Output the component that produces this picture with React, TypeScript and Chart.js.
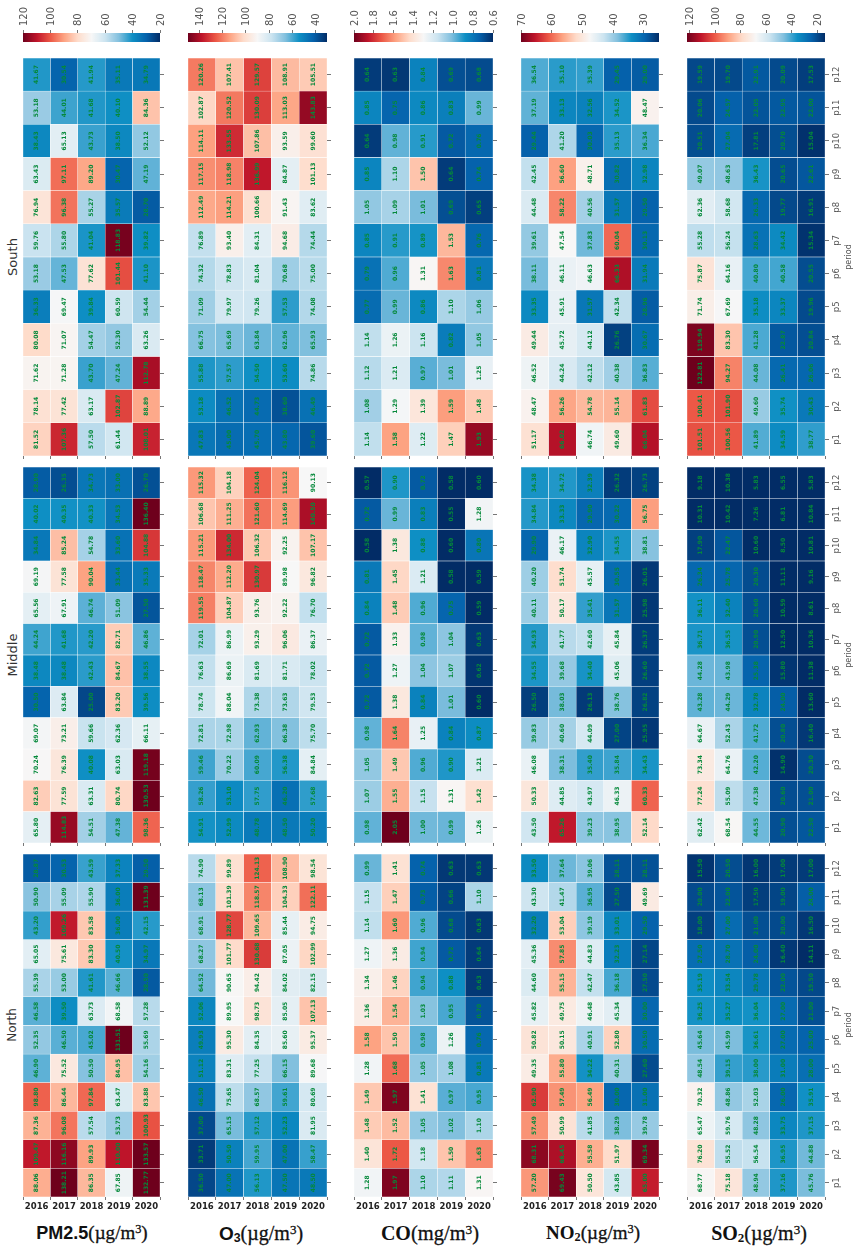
import React, { useEffect, useRef } from "react";
import { Chart, registerables } from "chart.js";

Chart.register(...registerables);

const years = ["2016", "2017", "2018", "2019", "2020"];
const periods = ["p1", "p2", "p3", "p4", "p5", "p6", "p7", "p8", "p9", "p10", "p11", "p12"];
const regions = ["South", "Middle", "North"];

// every table: rows p1..p12, columns 2016..2020
const pm25South = [
  [81.52, 107.36, 57.5, 61.44, 108.01], [78.14, 77.42, 63.17, 102.87, 88.89], [71.62, 71.28, 43.7, 47.24, 112.78],
  [80.08, 71.07, 54.47, 52.3, 63.26], [36.33, 69.47, 39.84, 60.59, 54.44], [53.18, 47.53, 77.62, 101.44, 41.1],
  [59.76, 55.8, 41.04, 118.83, 39.82], [76.94, 96.38, 55.27, 35.57, 28.7], [63.43, 97.11, 89.2, 30.47, 47.19],
  [38.43, 65.13, 43.73, 38.5, 52.12], [53.18, 44.01, 41.68, 40.1, 84.36], [41.67, 30.54, 41.94, 35.11, 34.79],
];
const o3South = [
  [47.83, 45.0, 45.7, 43.8, 39.6], [53.18, 46.52, 44.73, 38.6, 46.49], [55.88, 57.57, 54.5, 53.6, 74.86],
  [66.75, 65.69, 63.84, 62.96, 65.93], [71.09, 79.97, 79.26, 57.53, 74.08], [74.32, 78.83, 81.04, 70.68, 75.0],
  [76.89, 93.4, 84.31, 94.68, 74.44], [112.49, 114.21, 100.66, 91.43, 83.62], [117.15, 118.98, 136.99, 84.87, 101.13],
  [114.11, 133.55, 107.86, 93.59, 99.6], [102.87, 120.52, 130.09, 113.03, 143.83], [120.26, 107.41, 129.57, 108.91, 105.51],
];
const coSouth = [
  [1.14, 1.58, 1.22, 1.47, 1.93], [1.08, 1.29, 1.39, 1.59, 1.48], [1.12, 1.21, 0.97, 1.01, 1.25],
  [1.14, 1.26, 1.16, 0.82, 1.05], [0.77, 0.99, 0.86, 1.1, 1.06], [0.79, 0.96, 1.31, 1.63, 0.81],
  [0.85, 0.91, 0.89, 1.53, 0.76], [1.05, 1.09, 1.01, 0.69, 0.65], [0.85, 1.1, 1.5, 0.64, 0.74],
  [0.64, 0.98, 0.91, 0.72, 0.76], [0.85, 0.75, 0.86, 0.83, 0.99], [0.64, 0.63, 0.84, 0.69, 0.68],
];
const no2South = [
  [51.17, 66.02, 46.74, 49.6, 66.04], [48.47, 56.26, 54.78, 55.14, 61.83], [46.52, 44.24, 42.12, 40.38, 36.83],
  [49.44, 45.72, 44.12, 26.76, 30.67], [33.35, 45.91, 31.57, 42.34, 28.96], [38.11, 46.11, 46.63, 66.33, 31.94],
  [39.61, 47.54, 37.83, 60.04, 30.13], [44.48, 58.22, 40.56, 31.57, 29.5], [42.45, 56.6, 48.71, 30.82, 32.98],
  [29.44, 41.2, 30.03, 35.13, 36.34], [37.19, 33.13, 32.56, 34.52, 48.47], [36.54, 35.1, 35.39, 29.45, 29.0],
];
const so2South = [
  [101.51, 100.56, 41.89, 34.59, 38.77], [100.41, 101.9, 49.6, 35.74, 30.43], [122.81, 94.27, 44.08, 26.41, 26.06],
  [119.94, 83.3, 41.28, 22.87, 20.84], [71.74, 67.69, 35.18, 33.37, 19.96], [75.87, 64.16, 40.8, 40.58, 20.55],
  [55.28, 56.24, 28.63, 34.42, 15.34], [62.36, 58.68, 26.33, 19.77, 16.91], [49.07, 48.63, 36.43, 20.65, 22.61],
  [20.51, 27.04, 17.81, 20.7, 15.04], [20.06, 24.57, 22.05, 22.95, 22.0], [19.59, 19.7, 22.91, 20.09, 17.53],
];
const pm25Middle = [
  [65.8, 114.83, 54.51, 47.38, 98.36], [82.63, 77.59, 63.31, 80.74, 130.53], [70.24, 76.39, 40.08, 63.03, 119.18],
  [69.07, 73.21, 59.66, 62.36, 66.11], [30.5, 63.84, 25.0, 83.2, 39.56], [38.48, 38.48, 42.43, 84.67, 38.55],
  [44.24, 41.68, 42.2, 82.71, 46.86], [65.56, 67.91, 46.74, 51.09, 27.5], [69.19, 77.58, 90.04, 33.44, 35.33],
  [34.84, 85.24, 54.78, 33.6, 104.88], [40.02, 40.35, 40.33, 34.53, 136.4], [28.9, 26.35, 34.73, 33.0, 26.7],
];
const o3Middle = [
  [54.91, 52.99, 48.78, 48.5, 50.2], [58.26, 53.1, 57.75, 46.2, 57.68], [59.46, 70.22, 60.09, 56.38, 84.84],
  [72.81, 72.98, 62.93, 66.38, 75.7], [78.74, 88.04, 73.38, 73.63, 79.53], [76.63, 86.69, 81.69, 81.71, 78.02],
  [72.01, 86.99, 93.29, 96.06, 86.37], [119.55, 104.87, 93.76, 92.22, 76.7], [118.47, 112.2, 130.97, 89.98, 96.82],
  [115.21, 134.0, 106.32, 92.25, 107.17], [106.68, 111.25, 121.6, 114.69, 140.5], [115.32, 104.18, 124.04, 116.12, 90.13],
];
const coMiddle = [
  [0.98, 2.05, 1.0, 0.99, 1.26], [1.07, 1.55, 1.15, 1.31, 1.42], [1.05, 1.49, 0.96, 0.9, 1.21],
  [0.98, 1.64, 1.25, 0.84, 0.87], [0.72, 1.38, 0.84, 1.01, 0.6], [0.72, 1.27, 1.04, 1.07, 0.62],
  [0.72, 1.33, 0.98, 1.04, 0.63], [0.84, 1.48, 0.96, 0.75, 0.59], [0.81, 1.45, 1.21, 0.58, 0.59],
  [0.58, 1.38, 0.88, 0.6, 0.8], [0.72, 0.99, 0.83, 0.55, 1.28], [0.57, 0.9, 0.72, 0.58, 0.6],
];
const no2Middle = [
  [43.5, 65.26, 39.23, 38.95, 52.14], [50.33, 44.85, 43.97, 46.33, 60.33], [46.08, 38.31, 35.4, 35.84, 34.43],
  [39.83, 40.6, 44.09, 27.0, 25.95], [26.5, 38.03, 26.13, 38.76, 26.82], [34.55, 39.68, 34.4, 45.06, 26.6],
  [34.93, 41.77, 42.6, 45.84, 26.37], [40.11, 50.17, 35.41, 31.57, 25.98], [40.2, 51.74, 45.57, 30.55, 26.01],
  [29.9, 46.17, 32.9, 34.55, 38.81], [34.84, 33.33, 29.9, 30.22, 56.75], [34.38, 34.72, 32.39, 26.32, 26.73],
];
const so2Middle = [
  [62.42, 68.54, 44.55, 20.9, 22.5], [77.24, 55.09, 47.38, 20.6, 21.0], [73.34, 64.76, 42.2, 14.9, 20.3],
  [64.67, 52.43, 41.72, 20.8, 16.4], [43.28, 44.29, 32.78, 24.0, 13.6], [44.28, 43.98, 25.38, 15.8, 11.38],
  [36.71, 36.55, 20.9, 12.5, 10.36], [36.11, 32.4, 20.6, 10.59, 8.61], [26.34, 25.78, 20.3, 11.11, 9.16],
  [17.9, 22.47, 10.6, 8.5, 10.81], [10.31, 10.42, 7.26, 6.81, 10.84], [9.18, 10.38, 5.83, 6.55, 5.83],
];
const pm25North = [
  [88.06, 138.21, 86.35, 67.85, 132.77], [109.47, 116.16, 89.93, 110.0, 133.57], [87.36, 96.08, 57.54, 53.73, 100.93],
  [98.8, 86.44, 97.84, 63.47, 83.88], [46.9, 75.52, 50.5, 84.95, 54.16], [52.35, 46.5, 45.02, 131.51, 55.69],
  [46.58, 39.5, 63.73, 68.58, 57.28], [55.39, 53.0, 41.61, 46.66, 28.5], [65.05, 75.61, 83.3, 40.5, 34.97],
  [43.2, 109.26, 83.58, 36.0, 42.15], [50.9, 55.09, 55.9, 36.0, 131.39], [28.87, 30.53, 43.59, 37.33, 29.5],
];
const o3North = [
  [36.5, 47.0, 56.13, 47.5, 48.5], [33.71, 50.5, 59.95, 47.0, 58.47], [37.0, 65.15, 57.12, 52.23, 81.95],
  [46.5, 75.65, 68.57, 59.61, 80.69], [51.12, 83.31, 77.25, 66.15, 89.68], [49.93, 95.3, 84.35, 85.6, 95.37],
  [52.06, 89.95, 98.73, 85.05, 107.13], [64.52, 90.65, 94.42, 84.02, 82.15], [68.27, 101.77, 130.68, 87.05, 102.99],
  [68.91, 128.77, 109.65, 85.44, 94.75], [68.13, 101.39, 118.57, 104.33, 122.11], [74.9, 99.89, 124.13, 108.9, 98.54],
];
const coNorth = [
  [1.28, 1.97, 1.1, 1.11, 1.31], [1.4, 1.72, 1.18, 1.5, 1.63], [1.48, 1.52, 1.05, 1.02, 1.1],
  [1.49, 1.97, 1.41, 0.97, 0.95], [1.28, 1.68, 1.05, 1.08, 0.81], [1.58, 1.5, 0.98, 1.26, 0.76],
  [1.36, 1.54, 1.03, 0.95, 0.7], [1.34, 1.46, 0.94, 0.88, 0.63], [1.27, 1.36, 0.94, 0.72, 0.64],
  [1.14, 1.6, 0.96, 0.68, 0.63], [1.15, 1.47, 0.73, 0.66, 1.1], [0.99, 1.41, 0.74, 0.63, 0.63],
];
const no2North = [
  [57.2, 69.43, 50.5, 43.85, 65.0], [68.31, 66.45, 55.58, 51.97, 69.34], [57.49, 50.99, 41.85, 38.29, 39.78],
  [62.9, 57.49, 56.49, 30.0, 31.0], [49.35, 55.8, 34.22, 40.31, 27.6], [50.82, 50.15, 40.91, 52.8, 30.5],
  [45.82, 49.75, 46.48, 45.34, 30.0], [44.6, 55.15, 42.47, 36.18, 27.5], [45.36, 57.85, 44.83, 32.23, 27.14],
  [32.2, 53.04, 39.19, 33.01, 29.5], [43.3, 41.47, 36.95, 27.5, 49.69], [33.5, 37.64, 39.06, 28.11, 28.11],
];
const so2North = [
  [68.77, 75.18, 48.94, 37.16, 45.76], [76.2, 55.52, 56.54, 36.95, 44.88], [65.47, 59.76, 48.28, 33.75, 37.15],
  [70.32, 48.86, 52.03, 26.0, 35.91], [48.54, 39.15, 38.0, 31.0, 28.0], [45.64, 45.99, 36.61, 27.0, 25.0],
  [36.25, 35.27, 36.04, 27.0, 21.0], [35.19, 33.54, 29.78, 22.0, 19.5], [27.5, 28.7, 24.0, 16.4, 14.11],
  [18.0, 27.0, 21.0, 20.0, 16.5], [20.0, 22.0, 17.5, 19.0, 24.0], [15.5, 20.5, 16.0, 17.0, 17.0],
];

const pm25Ticks = [120, 100, 80, 60, 40, 20];
const o3Ticks = [140, 120, 100, 80, 60, 40];
const coTicks = [2.0, 1.8, 1.6, 1.4, 1.2, 1.0, 0.8, 0.6];
const no2Ticks = [70, 60, 50, 40, 30];
const so2Ticks = [120, 100, 80, 60, 40, 20];

const columns = [
  { x: 23, w: 137, min: 20, max: 120, ticks: pm25Ticks, tables: [pm25South, pm25Middle, pm25North] },
  { x: 188, w: 139, min: 30.5, max: 149.5, ticks: o3Ticks, tables: [o3South, o3Middle, o3North] },
  { x: 354, w: 139, min: 0.6, max: 2.0, ticks: coTicks, tables: [coSouth, coMiddle, coNorth] },
  { x: 521, w: 138, min: 25, max: 70, ticks: no2Ticks, tables: [no2South, no2Middle, no2North] },
  { x: 687, w: 138, min: 14, max: 122, ticks: so2Ticks, tables: [so2South, so2Middle, so2North] },
];
const rows = [
  { y: 58, h: 398, mid: 257, labelSize: 13 },
  { y: 467, h: 376, mid: 655, labelSize: 13 },
  { y: 854, h: 343, mid: 1025, labelSize: 12 },
];

// RdBu-like ramp, red (high) to blue (low)
const ramp = [
  [110, 0, 28], [190, 20, 42], [236, 88, 70], [253, 163, 130], [254, 220, 203], [247, 247, 247],
  [204, 228, 240], [130, 192, 222], [14, 143, 196], [5, 98, 172], [2, 44, 102],
];
function rampColor(t: number) {
  const c = Math.max(0, Math.min(1, t)) * (ramp.length - 1);
  const i = Math.min(ramp.length - 2, Math.floor(c));
  const f = c - i;
  const m = ramp[i].map((a, k) => Math.round(a + (ramp[i + 1][k] - a) * f));
  return `rgb(${m[0]},${m[1]},${m[2]})`;
}

const FONT = "'DejaVu Sans'";
const GREEN = "#05893a";

const cellText = {
  id: "cellText",
  afterDatasetsDraw(chart: any) {
    const ctx = chart.ctx;
    ctx.save();
    ctx.font = `bold 6px ${FONT}`;
    ctx.fillStyle = GREEN;
    ctx.textAlign = "center";
    ctx.textBaseline = "middle";
    chart.data.datasets.forEach((ds: any, i: number) => {
      chart.getDatasetMeta(i).data.forEach((bar: any, j: number) => {
        const p = bar.getProps(["x", "y", "base"], true);
        ctx.save();
        ctx.translate(p.x, (p.y + p.base) / 2);
        ctx.rotate(-Math.PI / 2);
        ctx.fillText(ds.values[j].toFixed(2), 0, 0);
        ctx.restore();
      });
    });
    ctx.restore();
  },
};

function Panel({ col, row, withYears, withPeriods }: any) {
  const ref = useRef<HTMLCanvasElement>(null);
  const table: number[][] = col.tables[row];
  const box = rows[row];
  const extraX = withPeriods ? 22 : 5;
  const extraY = withYears ? 18 : 5;
  useEffect(() => {
    const chart = new Chart(ref.current as any, {
      type: "bar",
      data: {
        labels: years,
        datasets: periods.map((p, i) => ({
          label: p,
          values: table[i],
          data: years.map(() => [i, i + 1]),
          backgroundColor: table[i].map((v) => rampColor((col.max - v) / (col.max - col.min))),
          borderColor: "rgba(255,255,255,0.9)",
          borderWidth: 0.5,
          borderSkipped: false,
          barPercentage: 1,
          categoryPercentage: 1,
        })) as any,
      },
      options: {
        animation: false,
        responsive: false,
        events: [],
        layout: { padding: 0 },
        plugins: { legend: { display: false }, tooltip: { enabled: false }, title: { display: false } },
        scales: {
          x: {
            stacked: true,
            grid: { drawOnChartArea: false, drawTicks: true, tickLength: 3, color: "#777" },
            border: { display: false },
            ticks: {
              display: withYears,
              padding: 2,
              maxRotation: 0,
              minRotation: 0,
              color: "#222",
              font: { family: "DejaVu Sans", size: 8.5, weight: "bold" },
            },
            afterFit(s: any) {
              s.height = extraY;
              s.paddingLeft = s.paddingRight = s.paddingTop = s.paddingBottom = 0;
            },
          },
          y: {
            position: "right",
            min: 0,
            max: periods.length,
            stacked: false,
            grid: { drawOnChartArea: false, drawTicks: true, tickLength: 4, color: "#777" },
            border: { display: false },
            afterBuildTicks(s: any) {
              s.ticks = periods.map((_, i) => ({ value: i + 0.5 }));
            },
            ticks: {
              display: withPeriods,
              autoSkip: false,
              minRotation: 90,
              maxRotation: 90,
              crossAlign: "center",
              padding: 0,
              color: "#555",
              font: { family: "DejaVu Sans", size: 8.5 },
              callback: (v: any) => periods[Math.floor(Number(v))],
            },
            afterFit(s: any) {
              s.width = extraX;
              s.paddingLeft = s.paddingRight = s.paddingTop = s.paddingBottom = 0;
            },
          },
        },
      } as any,
      plugins: [cellText] as any,
    });
    return () => chart.destroy();
  }, []);
  return (
    <canvas
      ref={ref}
      width={col.w + extraX}
      height={box.h + extraY}
      style={{ position: "absolute", left: col.x, top: box.y, width: col.w + extraX, height: box.h + extraY }}
    />
  );
}

function ColorBar({ col }: any) {
  const ref = useRef<HTMLCanvasElement>(null);
  useEffect(() => {
    const chart = new Chart(ref.current as any, {
      type: "bar",
      data: {
        labels: ["scale"],
        datasets: [
          {
            data: [[col.min, col.max]],
            barPercentage: 1,
            categoryPercentage: 1,
            backgroundColor: (c: any) => {
              const a = c.chart.chartArea;
              if (!a) return "#fff";
              const g = c.chart.ctx.createLinearGradient(a.left, 0, a.right, 0);
              for (let i = 0; i <= 40; i++) g.addColorStop(i / 40, rampColor(i / 40));
              return g;
            },
          },
        ] as any,
      },
      options: {
        animation: false,
        responsive: false,
        events: [],
        indexAxis: "y",
        layout: { padding: { left: 8, right: 8 } },
        plugins: { legend: { display: false }, tooltip: { enabled: false } },
        scales: {
          x: {
            position: "top",
            reverse: true,
            min: col.min,
            max: col.max,
            grid: { drawOnChartArea: false, tickLength: 3, color: "#777" },
            border: { display: false },
            afterBuildTicks(s: any) {
              s.ticks = col.ticks.map((value: number) => ({ value }));
            },
            ticks: {
              autoSkip: false,
              minRotation: 90,
              maxRotation: 90,
              padding: 4,
              labelOffset: 13,
              color: "#555",
              font: { family: "DejaVu Sans", size: 10 },
              callback: (v: any) => (col.min < 1 ? Number(v).toFixed(1) : String(v)),
            },
            afterFit(s: any) {
              s.height = 33;
              s.paddingLeft = s.paddingRight = s.paddingTop = s.paddingBottom = 0;
            },
          },
          y: { display: false },
        },
      } as any,
    });
    return () => chart.destroy();
  }, []);
  return (
    <canvas
      ref={ref}
      width={col.w + 16}
      height={42}
      style={{ position: "absolute", left: col.x - 8, top: 0, width: col.w + 16, height: 42 }}
    />
  );
}

function Rotated({ x, y, size, color, children }: any) {
  return (
    <div
      style={{
        position: "absolute",
        left: x,
        top: y,
        transform: "translate(-50%,-50%) rotate(-90deg)",
        font: `${size}px 'DejaVu Sans'`,
        color,
        whiteSpace: "nowrap",
      }}
    >
      {children}
    </div>
  );
}

const SANS = "'Liberation Sans'";
const SERIF = "'Liberation Serif'";

function Title({ x, head, headFont, headSize, size, sub, unit }: any) {
  return (
    <div
      style={{
        position: "absolute",
        left: x,
        top: 1233,
        transform: "translate(-50%,-50%)",
        whiteSpace: "nowrap",
        font: `bold ${headSize}px ${SERIF}`,
        color: "#111",
      }}
    >
      <span style={{ fontFamily: headFont }}>{head}</span>
      {sub ? (
        <span style={{ fontSize: headSize * 0.65, verticalAlign: "-2px", lineHeight: 0, fontFamily: headFont }}>{sub}</span>
      ) : null}
      <span style={{ fontWeight: 400, fontSize: size, WebkitTextStroke: "0.3px #111" }}>
        ({unit}/m<span style={{ fontSize: size * 0.65, verticalAlign: "6px", lineHeight: 0 }}>3</span>)
      </span>
    </div>
  );
}

export default function App() {
  return (
    <div
      style={{
        position: "absolute",
        left: 0,
        top: 0,
        width: 858,
        height: 1252,
        overflow: "hidden",
        background: "#fff",
        filter: "blur(0.4px)",
      }}
    >
      {columns.map((c, i) => (
        <ColorBar key={i} col={c} />
      ))}
      {rows.map((_, r) =>
        columns.map((c, i) => (
          <Panel key={`${r}-${i}`} col={c} row={r} withYears={r === 2} withPeriods={i === columns.length - 1} />
        ))
      )}
      {rows.map((r, i) => (
        <Rotated key={regions[i]} x={12} y={r.mid} size={r.labelSize} color="#333">
          {regions[i]}
        </Rotated>
      ))}
      {rows.map((r, i) => (
        <Rotated key={i} x={848} y={r.mid} size={8} color="#555">
          period
        </Rotated>
      ))}
      <Title x={92} head="PM2.5" headFont={SANS} headSize={18} size={19} unit="µg" />
      <Title x={261} head="O" sub="3" headFont={SANS} headSize={19} size={20} unit="µg" />
      <Title x={430} head="CO" headFont={SERIF} headSize={20} size={20.5} unit="mg" />
      <Title x={593} head="NO" sub="2" headFont={SERIF} headSize={19} size={19} unit="µg" />
      <Title x={759} head="SO" sub="2" headFont={SERIF} headSize={20} size={20} unit="µg" />
    </div>
  );
}
